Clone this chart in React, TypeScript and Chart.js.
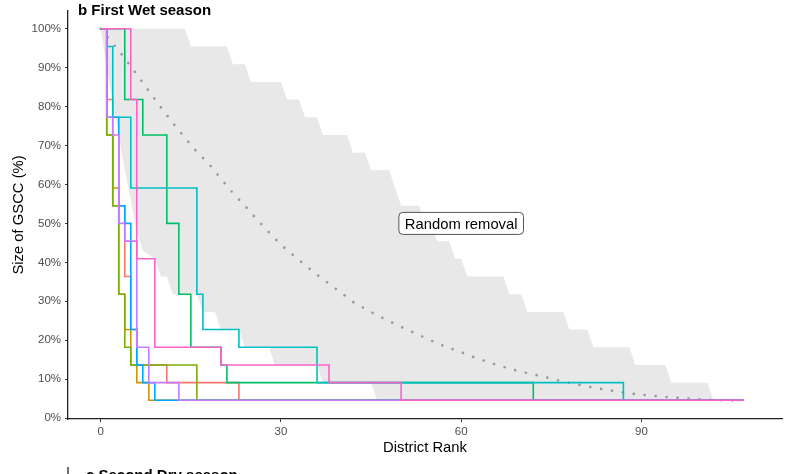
import React, { useEffect, useRef } from 'react';
import { Chart, registerables } from 'chart.js';

Chart.register(...registerables);

// ---- data (x = district rank, y = size of GSCC in %) ----
const salmonX = [0, 1, 2, 4, 5, 6, 11, 23, 107];
const salmonY = [100, 81.82, 54.55, 36.36, 22.73, 13.64, 9.09, 4.55, 4.55];

const orangeX = [0, 1, 2, 3, 4, 5, 6, 8, 107];
const orangeY = [100, 72.73, 59.09, 31.82, 22.73, 13.64, 9.09, 4.55, 4.55];

const oliveX = [0, 1, 2, 3, 4, 5, 16, 107];
const oliveY = [100, 72.73, 54.55, 31.82, 18.18, 13.64, 4.55, 4.55];

const greenX = [0, 4, 7, 11, 13, 15, 20, 21, 72, 107];
const greenY = [100, 81.82, 72.73, 50, 31.82, 18.18, 13.64, 9.09, 4.55, 4.55];

const cyanX = [0, 1, 2, 5, 16, 17, 23, 36, 87, 107];
const cyanY = [100, 95.45, 77.27, 59.09, 31.82, 22.73, 18.18, 9.09, 4.55, 4.55];

const blueX = [0, 1, 3, 4, 5, 6, 7, 9, 107];
const blueY = [100, 77.27, 54.55, 50, 22.73, 13.64, 9.09, 4.55, 4.55];

const purpleX = [0, 1, 2, 3, 4, 6, 8, 13, 107];
const purpleY = [100, 77.27, 72.73, 50, 45.45, 18.18, 9.09, 4.55, 4.55];

const pinkX = [0, 5, 6, 9, 20, 38, 50, 107];
const pinkY = [100, 81.82, 40.91, 18.18, 13.64, 9.09, 4.55, 4.55];

// random removal: mean (dotted) and range (grey band)
const meanX = [0, 2, 4, 6, 8, 10, 12, 14, 16, 18, 20, 22, 24, 26, 28, 30, 32, 34, 36, 38, 40, 42, 44, 46, 48, 50, 52, 54, 56, 58, 60, 62, 64, 66, 68, 70, 72, 74, 76, 78, 80, 82, 84, 86, 88, 90, 92, 94, 96, 98, 100, 102, 104, 106];
const meanY = [100, 96.3, 92.4, 88.3, 84, 79.8, 75.8, 72, 68.4, 65.3, 61.5, 57.8, 54.5, 51, 47.7, 44.5, 41.9, 39.3, 36.8, 34.5, 32.2, 29.8, 28.1, 26.4, 24.9, 23.4, 22.0, 20.6, 19.2, 18.0, 16.9, 15.7, 14.6, 13.6, 12.7, 11.9, 11.2, 10.5, 9.7, 9.0, 8.4, 7.8, 7.3, 6.8, 6.3, 6.0, 5.7, 5.4, 5.2, 4.95, 4.8, 4.65, 4.55, 4.5];

const upperX = [0, 14, 15, 21, 22, 24, 25, 30, 31, 33, 34, 36, 37, 41, 42, 44, 45, 48, 49, 50, 53, 54, 55, 56, 58, 59, 60, 61, 67, 68, 70, 71, 77, 78, 81, 82, 88, 89, 94, 95, 101, 102];
const upperY = [100, 100, 95.45, 95.45, 90.91, 90.91, 86.36, 86.36, 81.82, 81.82, 77.27, 77.27, 72.73, 72.73, 68.18, 68.18, 63.64, 63.64, 59.09, 54.55, 54.55, 50, 50, 45.45, 45.45, 40.91, 40.91, 36.36, 36.36, 31.82, 31.82, 27.27, 27.27, 22.73, 22.73, 18.18, 18.18, 13.64, 13.64, 9.09, 9.09, 4.55];

const lowerX = [0, 1, 2, 3, 4, 5, 6, 7, 9, 10, 11, 12, 16, 17, 19, 20, 23, 24, 28, 29, 36, 37, 45, 46, 102];
const lowerY = [100, 90, 81, 72.73, 63.64, 56, 47.7, 43, 40.91, 36.36, 36.36, 31.82, 31.82, 27.27, 27.27, 22.73, 22.73, 18.18, 18.18, 13.64, 13.64, 9.09, 9.09, 4.55, 4.55];

const xTicks = [0, 30, 60, 90];
const yTicks = [0, 10, 20, 30, 40, 50, 60, 70, 80, 90, 100];

const labelText = 'Random removal';
const labelX = 60;
const labelY = 50;

const FONT = '"Liberation Sans", Arial, Helvetica, sans-serif';

const mk = (xs: number[], ys: number[]) => xs.map((v, i) => ({ x: v, y: ys[i] }));

const overlay = {
  id: 'overlay',
  afterDatasetsDraw(chart: any) {
    const { ctx, scales } = chart;
    const cx = scales.x.getPixelForValue(labelX);
    const cy = scales.y.getPixelForValue(labelY);
    ctx.save();
    ctx.font = `14.8px ${FONT}`;
    const w = ctx.measureText(labelText).width + 12;
    const h = 22;
    const x0 = cx - w / 2;
    const y0 = cy - h / 2;
    const r = 4;
    ctx.beginPath();
    ctx.moveTo(x0 + r, y0);
    ctx.lineTo(x0 + w - r, y0);
    ctx.quadraticCurveTo(x0 + w, y0, x0 + w, y0 + r);
    ctx.lineTo(x0 + w, y0 + h - r);
    ctx.quadraticCurveTo(x0 + w, y0 + h, x0 + w - r, y0 + h);
    ctx.lineTo(x0 + r, y0 + h);
    ctx.quadraticCurveTo(x0, y0 + h, x0, y0 + h - r);
    ctx.lineTo(x0, y0 + r);
    ctx.quadraticCurveTo(x0, y0, x0 + r, y0);
    ctx.closePath();
    ctx.fillStyle = '#ffffff';
    ctx.fill();
    ctx.strokeStyle = '#555555';
    ctx.lineWidth = 1;
    ctx.stroke();
    ctx.fillStyle = '#000000';
    ctx.textAlign = 'center';
    ctx.textBaseline = 'middle';
    ctx.fillText(labelText, cx, cy + 1);
    ctx.restore();
  },
  afterDraw(chart: any) {
    const { ctx, chartArea } = chart;
    ctx.save();
    ctx.fillStyle = '#000000';
    ctx.textBaseline = 'alphabetic';
    ctx.textAlign = 'left';
    ctx.font = `bold 15px ${FONT}`;
    ctx.fillText('b First Wet season', 78, 15);
    ctx.fillText('c Second Dry season', 86, 480);
    ctx.font = `14.8px ${FONT}`;
    ctx.textAlign = 'center';
    ctx.fillText('District Rank', (chartArea.left + chartArea.right) / 2, 452);
    ctx.translate(23, (chartArea.top + chartArea.bottom) / 2);
    ctx.rotate(-Math.PI / 2);
    ctx.fillText('Size of GSCC (%)', 0, 0);
    ctx.restore();
    ctx.save();
    ctx.strokeStyle = '#222222';
    ctx.lineWidth = 1.3;
    ctx.beginPath();
    ctx.moveTo(chartArea.left, 467);
    ctx.lineTo(chartArea.left, 474);
    ctx.stroke();
    ctx.restore();
  },
};

const stepLine = (label: string, xs: number[], ys: number[], color: string, order: number) => ({
  label,
  data: mk(xs, ys),
  borderColor: color,
  borderWidth: 1.6,
  pointRadius: 0,
  stepped: true,
  fill: false,
  order,
});

export default function App() {
  const ref = useRef<HTMLCanvasElement>(null);
  useEffect(() => {
    const canvas = ref.current;
    if (!canvas) return;
    const chart = new Chart(canvas, {
      type: 'line',
      data: {
        datasets: [
          {
            label: 'upper',
            data: mk(upperX, upperY),
            borderColor: 'rgba(0,0,0,0)',
            borderWidth: 0.01,
            pointRadius: 0,
            tension: 0,
            fill: 1,
            backgroundColor: '#E8E8E8',
            order: 100,
          },
          {
            label: 'lower',
            data: mk(lowerX, lowerY),
            borderColor: 'rgba(0,0,0,0)',
            borderWidth: 0.01,
            pointRadius: 0,
            tension: 0,
            fill: false,
            order: 99,
          },
          {
            label: 'mean',
            data: mk(meanX, meanY),
            borderColor: '#999999',
            borderWidth: 2.7,
            borderDash: [0, 11],
            borderCapStyle: 'round',
            pointRadius: 0,
            tension: 0,
            fill: false,
            order: 50,
          },
          stepLine('A', salmonX, salmonY, '#F8766D', 8),
          stepLine('B', orangeX, orangeY, '#CD9600', 7),
          stepLine('C', oliveX, oliveY, '#7CAE00', 6),
          stepLine('D', greenX, greenY, '#00BE67', 5),
          stepLine('E', cyanX, cyanY, '#00BFC4', 4),
          stepLine('F', blueX, blueY, '#00A9FF', 3),
          stepLine('G', purpleX, purpleY, '#C77CFF', 2),
          stepLine('H', pinkX, pinkY, '#FF61CC', 1),
        ] as any,
      },
      options: {
        responsive: false,
        animation: false,
        devicePixelRatio: 1,
        layout: { padding: { left: 0, right: 5, top: 5, bottom: 0 } },
        plugins: {
          legend: { display: false },
          tooltip: { enabled: false },
          title: { display: false },
        },
        scales: {
          x: {
            type: 'linear',
            min: -5.45,
            max: 113.4,
            afterBuildTicks: (s: any) => {
              s.ticks = xTicks.map((v) => ({ value: v }));
            },
            afterFit: (s: any) => {
              s.height = 55;
            },
            ticks: {
              font: { size: 11.5, family: FONT },
              color: '#4D4D4D',
              padding: 3,
              maxRotation: 0,
            },
            grid: { drawOnChartArea: false, drawTicks: true, tickLength: 3, tickColor: '#333333', color: '#333333' },
            border: { display: true, color: '#222222', width: 1.3 },
          },
          y: {
            type: 'linear',
            min: -0.25,
            max: 104.6,
            afterBuildTicks: (s: any) => {
              s.ticks = yTicks.map((v) => ({ value: v }));
            },
            afterFit: (s: any) => {
              s.width = 68;
            },
            ticks: {
              font: { size: 11.5, family: FONT },
              color: '#4D4D4D',
              padding: 4,
              callback: (v: any) => `${v}%`,
            },
            grid: { drawOnChartArea: false, drawTicks: true, tickLength: 3, tickColor: '#333333', color: '#333333' },
            border: { display: true, color: '#222222', width: 1.3 },
          },
        },
      } as any,
      plugins: [overlay],
    });
    return () => chart.destroy();
  }, []);
  return (
    <div style={{ position: 'absolute', left: 0, top: 0, width: 787, height: 474, background: '#ffffff' }}>
      <canvas ref={ref} width={787} height={474} style={{ display: 'block' }} />
    </div>
  );
}
